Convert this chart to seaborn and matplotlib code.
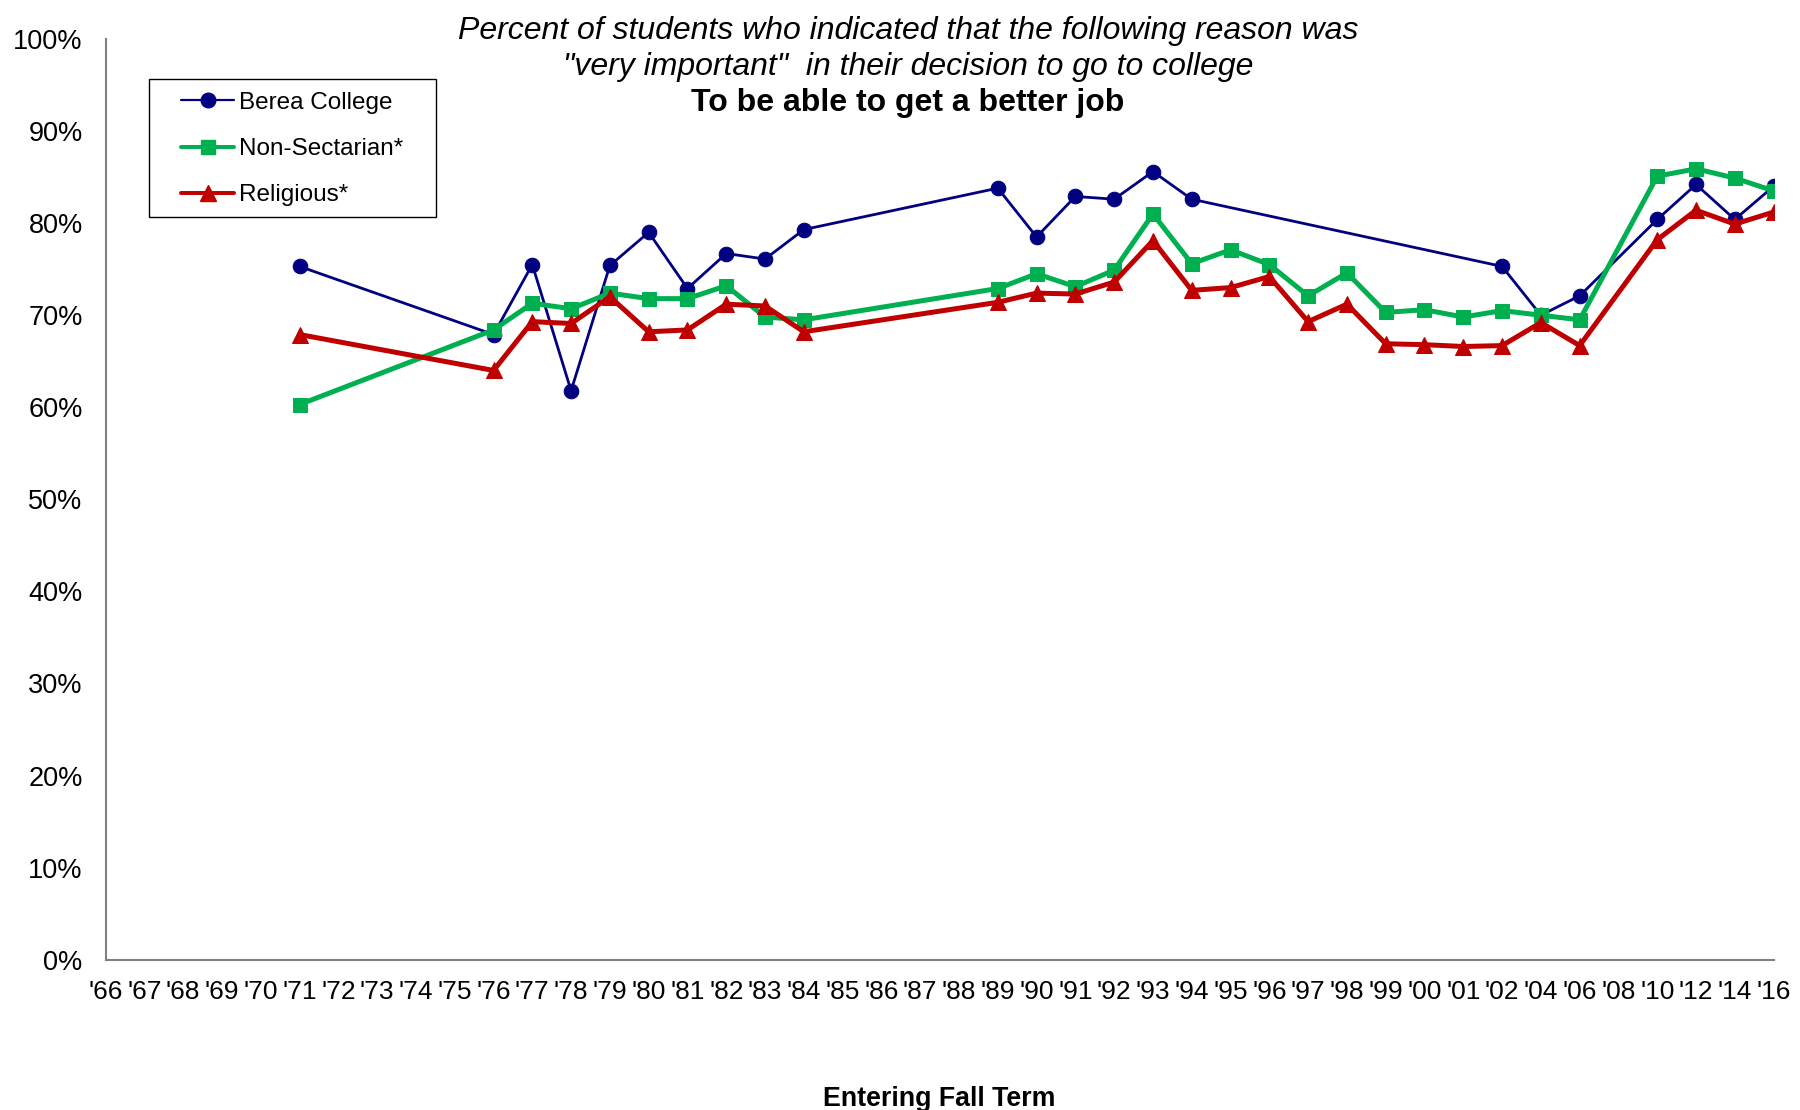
import matplotlib
matplotlib.use("Agg")
import matplotlib.pyplot as plt
import seaborn as sns
import pandas as pd
from matplotlib.lines import Line2D
from matplotlib.patches import Rectangle

years = ["'66", "'67", "'68", "'69", "'70", "'71", "'72", "'73", "'74", "'75",
         "'76", "'77", "'78", "'79", "'80", "'81", "'82", "'83", "'84", "'85",
         "'86", "'87", "'88", "'89", "'90", "'91", "'92", "'93", "'94", "'95",
         "'96", "'97", "'98", "'99", "'00", "'01", "'02", "'04", "'06", "'08",
         "'10", "'12", "'14", "'16"]

N = None
berea = [N, N, N, N, N, 75.3, N, N, N, N,
         67.9, 75.5, 61.8, 75.4, 79.0, 72.9, 76.7, 76.1, 79.3, N,
         N, N, N, 83.8, 78.5, 82.9, 82.6, 85.6, 82.6, N,
         N, N, N, N, N, N, 75.3, 70.0, 72.1, N,
         80.4, 84.2, 80.4, 84.0]
nonsect = [N, N, N, N, N, 60.3, N, N, N, N,
           68.4, 71.3, 70.7, 72.4, 71.8, 71.8, 73.2, 69.8, 69.5, N,
           N, N, N, 72.9, 74.5, 73.1, 74.9, 81.0, 75.6, 77.1,
           75.5, 72.1, 74.6, 70.3, 70.6, 69.8, 70.5, 70.0, 69.5, N,
           85.1, 85.9, 84.9, 83.5]
religious = [N, N, N, N, N, 67.9, N, N, N, N,
             64.0, 69.3, 69.1, 72.0, 68.2, 68.4, 71.2, 71.0, 68.2, N,
             N, N, N, 71.4, 72.4, 72.3, 73.6, 78.1, 72.7, 73.0,
             74.2, 69.3, 71.2, 66.9, 66.8, 66.6, 66.7, 69.2, 66.7, N,
             78.2, 81.4, 79.9, 81.2]

series_names = ["Berea College", "Non-Sectarian*", "Religious*"]

sns.set_style("white")
plt.rcParams['font.family'] = ['Liberation Sans', 'DejaVu Sans']
plt.rcParams['text.color'] = 'black'

rows = []
for name, vals in zip(series_names, [berea, nonsect, religious]):
    for i, v in enumerate(vals):
        if v is not None:
            rows.append({"pos": i, "value": v, "series": name})
df = pd.DataFrame(rows)

W, H = 1800, 1110
fig = plt.figure(figsize=(18, 11.1), dpi=100)
ax = fig.add_axes([105.6 / W, 1 - 959.7 / H, (1773.6 - 105.6) / W, (959.7 - 39) / H])

styles = {
    "Berea College": dict(color="#000080", marker="o", lw=2.0, ms=10.5),
    "Non-Sectarian*": dict(color="#00B050", marker="s", lw=3.6, ms=10.5),
    "Religious*": dict(color="#C00000", marker="^", lw=3.6, ms=11),
}
for name in series_names:
    st = styles[name]
    sns.lineplot(data=df[df.series == name], x="pos", y="value", ax=ax,
                 color=st["color"], marker=st["marker"], linewidth=st["lw"],
                 markersize=st["ms"], markeredgecolor=st["color"],
                 markerfacecolor=st["color"], legend=False,
                 errorbar=None, sort=False, zorder=3)

ax.set_xlim(0, len(years) - 1)
ax.set_ylim(0, 100)
ax.set_xticks(range(len(years)))
ax.set_xticklabels(years, fontsize=19)
ax.set_yticks(range(0, 101, 10))
ax.set_yticklabels([f"{v}%" for v in range(0, 101, 10)], fontsize=19.5)
ax.tick_params(axis='both', direction='out', length=4.5, width=1.3,
               color="#808080", labelcolor="black")
ax.tick_params(axis='x', pad=10)
ax.tick_params(axis='y', pad=12)
for s in ["top", "right"]:
    ax.spines[s].set_visible(False)
for s in ["left", "bottom"]:
    ax.spines[s].set_color("#808080")
    ax.spines[s].set_linewidth(1.5)
ax.set_xlabel("")
ax.set_ylabel("")
ax.grid(False)

# legend box
fig.patches.append(Rectangle((149 / W, 1 - 217 / H), (436 - 149) / W, (217 - 79) / H,
                             transform=fig.transFigure, fill=False,
                             edgecolor="black", linewidth=1.0, zorder=5))
handles = [Line2D([0], [0], color=styles[n]["color"], marker=styles[n]["marker"],
                  lw=styles[n]["lw"] * 0.8, ms=styles[n]["ms"]) for n in series_names]
leg = fig.legend(handles, series_names, loc="center left",
                 bbox_to_anchor=(181 / W, 1 - 149 / H),
                 fontsize=17.5, frameon=False,
                 handlelength=2.2, handletextpad=0.2, labelspacing=1.0,
                 borderpad=0, borderaxespad=0)
for t in leg.get_texts():
    t.set_color("black")

fig.text(908 / W, 1 - 31 / H,
         "Percent of students who indicated that the following reason was",
         ha="center", va="center", fontsize=23, style="italic", color="black")
fig.text(908 / W, 1 - 66.5 / H,
         "\"very important\"  in their decision to go to college",
         ha="center", va="center", fontsize=23, style="italic", color="black")
fig.text(908 / W, 1 - 103.5 / H, "To be able to get a better job",
         ha="center", va="center", fontsize=23, fontweight="bold", color="black")
fig.text(939.6 / W, 1 - 1099 / H, "Entering Fall Term",
         ha="center", va="center", fontsize=19.3, fontweight="bold", color="black")

fig.savefig("out.png", dpi=100)
